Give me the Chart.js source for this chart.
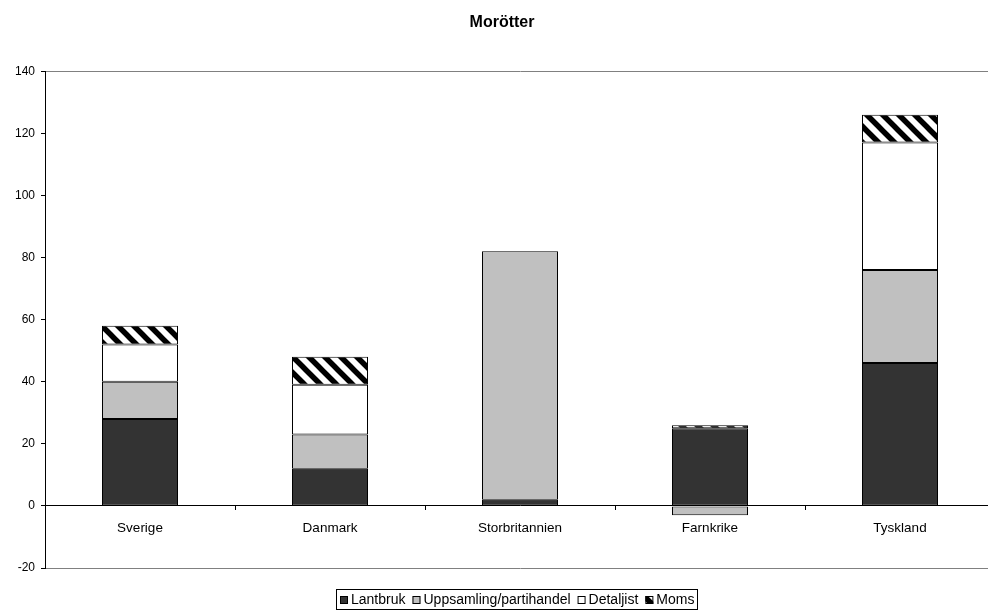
<!DOCTYPE html>
<html>
<head>
<meta charset="utf-8">
<script src="https://cdn.jsdelivr.net/npm/chart.js@4"></script>
<style>
  html, body { margin: 0; padding: 0; background: #fff; overflow: hidden; }
  canvas { display: block; }
</style>
</head>
<body>
<canvas id="myChart" width="1004" height="611" style="width:1004px;height:611px"></canvas>
<script>
const categories = ['Sverige', 'Danmark', 'Storbritannien', 'Farnkrike', 'Tyskland']
const lantbruk = [28, 12, 2, 25, 46]
const uppsamling = [12, 11, 80, -3, 30]
const detaljist = [12, 16, 0, 0, 41]
const moms = [6, 9, 0, 1, 9]
const seriesNames = ['Lantbruk', 'Uppsamling/partihandel', 'Detaljist', 'Moms']

const font = '"Liberation Sans", Arial, sans-serif'

// diagonal stripes for Moms
const makeHatch = function () {
  const c = document.createElement('canvas')
  c.width = 16
  c.height = 16
  const g = c.getContext('2d')
  g.fillStyle = '#fff'
  g.fillRect(0, 0, 16, 16)
  g.strokeStyle = '#000'
  g.lineWidth = 5.5
  g.beginPath()
  g.moveTo(-4, -4); g.lineTo(20, 20)
  g.moveTo(-4, 12); g.lineTo(4, 20)
  g.moveTo(12, -4); g.lineTo(20, 4)
  g.stroke()
  return g.createPattern(c, 'repeat')
}

// excel style legend with a box around it, under the plot
const boxedLegend = {
  id: 'boxedLegend',
  afterDraw(chart) {
    const ctx = chart.ctx
    const sets = chart.data.datasets
    const sq = 8, gapText = 3, gapItem = 7, pad = 3
    ctx.save()
    ctx.font = '14px ' + font
    const widths = sets.map((d) => ctx.measureText(d.label).width)
    let total = pad * 2 + 1
    widths.forEach((w, i) => {
      total += sq + gapText + w + (i < widths.length - 1 ? gapItem : 0)
    })
    const cx = (chart.chartArea.left + chart.chartArea.right) / 2 - 3
    const left = Math.round(cx - total / 2)
    const top = 589
    const h = 20
    ctx.strokeStyle = '#000'
    ctx.lineWidth = 1
    ctx.strokeRect(left + 0.5, top + 0.5, Math.round(total), h)
    let x = left + pad + 1
    const midY = top + h / 2 + 0.5
    sets.forEach((d, i) => {
      ctx.fillStyle = d.backgroundColor
      ctx.fillRect(x, Math.round(midY - sq / 2), sq, sq)
      ctx.strokeStyle = '#000'
      ctx.strokeRect(x + 0.5, Math.round(midY - sq / 2) + 0.5, sq - 1, sq - 1)
      x += sq + gapText
      ctx.fillStyle = '#000'
      ctx.textBaseline = 'middle'
      ctx.fillText(d.label, x, midY + 0.5)
      x += widths[i] + gapItem
    })
    ctx.restore()
  },
}

const bar = function (label, data, color) {
  return {
    label,
    data,
    backgroundColor: color,
    borderColor: '#000',
    borderWidth: 1,
    borderSkipped: false,
    barPercentage: 0.4,
    categoryPercentage: 1,
  }
}

new Chart(document.getElementById('myChart'), {
  type: 'bar',
  data: {
    labels: categories,
    datasets: [
      bar(seriesNames[0], lantbruk, '#333333'),
      bar(seriesNames[1], uppsamling, '#c0c0c0'),
      bar(seriesNames[2], detaljist, '#ffffff'),
      bar(seriesNames[3], moms, makeHatch()),
    ],
  },
  plugins: [boxedLegend],
  options: {
    responsive: false,
    animation: false,
    layout: { padding: { left: 9, right: 9, top: 0, bottom: 43 } },
    plugins: {
      tooltip: { enabled: false },
      legend: { display: false },
      title: {
        display: true,
        text: 'Morötter',
        color: '#000',
        font: { family: font, size: 16, weight: 'bold' },
        padding: { top: 13, bottom: 39 },
      },
    },
    scales: {
      x: {
        stacked: true,
        position: { y: 0 },
        border: { color: '#000', width: 1 },
        grid: { drawOnChartArea: false, tickColor: '#000', tickLength: 4, offset: true },
        ticks: { color: '#000', font: { family: font, size: 13.5 }, padding: 10, maxRotation: 0 },
      },
      y: {
        stacked: true,
        min: -20,
        max: 140,
        border: { color: '#000', width: 1 },
        grid: {
          color: (c) => (c.tick && (c.tick.value === 140 || c.tick.value === -20) ? '#808080' : 'rgba(0,0,0,0)'),
          tickColor: '#000',
          tickLength: 4,
        },
        ticks: { stepSize: 20, color: '#000', font: { family: font, size: 12 }, padding: 6 },
        afterFit: (scale) => { scale.width = 36 },
      },
    },
  },
})
</script>
</body>
</html>
